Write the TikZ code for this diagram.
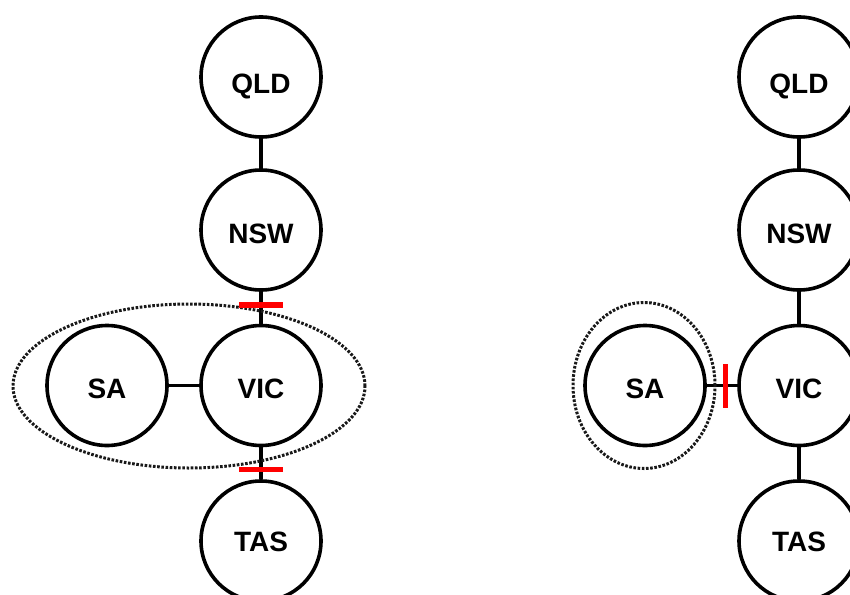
\documentclass[tikz,border=0pt]{standalone}
\usepackage{fontspec}
\setmainfont{Liberation Sans}
\usetikzlibrary{calc}
\newcommand\lowtext[2]{\raisebox{-#1}[0pt][0pt]{#2}}
\begin{document}
\begin{tikzpicture}[x=1pt,y=-1pt,
  state/.style={circle,draw=black,line width=3.6pt,minimum size=120pt,inner sep=0pt,
    font=\fontsize{28}{28}\selectfont\bfseries},
  link/.style={draw=black,line width=3.4pt},
  cutbar/.style={draw=red,line width=5.5pt},
  dotring/.style={draw=black!90,line width=3pt,dash pattern=on 2.6pt off 1.6pt}]
\useasboundingbox (0,0) rectangle (850,594);
\clip (0,0) rectangle (850,594);
% left diagram
\node[state] (qldL) at (261,77) {\lowtext{17pt}{QLD}};
\node[state] (nswL) at (261,230) {\lowtext{13pt}{NSW}};
\node[state] (vicL) at (261,385.5) {\lowtext{12.5pt}{VIC}};
\node[state] (tasL) at (261,541) {\lowtext{10pt}{TAS}};
\node[state] (saL)  at (107,385.5) {\lowtext{12.5pt}{SA}};
\draw[link] (qldL) -- (nswL);
\draw[link] (nswL) -- (vicL);
\draw[link] (vicL) -- (tasL);
\draw[link] (saL) -- (vicL);
\draw[dotring] (189,386) ellipse [x radius=176pt, y radius=82pt];
\coordinate (cutA) at ($(nswL.south)!0.42!(vicL.north)$);
\coordinate (cutB) at ($(vicL.south)!0.70!(tasL.north)$);
\draw[cutbar] ([xshift=-22pt]cutA) -- ([xshift=22pt]cutA);
\draw[cutbar] ([xshift=-22pt]cutB) -- ([xshift=22pt]cutB);
% right diagram
\node[state] (qldR) at (799,77) {\lowtext{17pt}{QLD}};
\node[state] (nswR) at (799,230) {\lowtext{13pt}{NSW}};
\node[state] (vicR) at (799,385.5) {\lowtext{12.5pt}{VIC}};
\node[state] (tasR) at (799,541) {\lowtext{10pt}{TAS}};
\node[state] (saR)  at (645,385.5) {\lowtext{12.5pt}{SA}};
\draw[link] (qldR) -- (nswR);
\draw[link] (nswR) -- (vicR);
\draw[link] (vicR) -- (tasR);
\draw[link] (saR) -- (vicR);
\draw[dotring] (644,385.5) ellipse [x radius=71pt, y radius=83pt];
\coordinate (cutC) at ($(saR.east)!0.61!(vicR.west)$);
\draw[cutbar] ([yshift=-22pt]cutC) -- ([yshift=22pt]cutC);
\end{tikzpicture}
\end{document}
